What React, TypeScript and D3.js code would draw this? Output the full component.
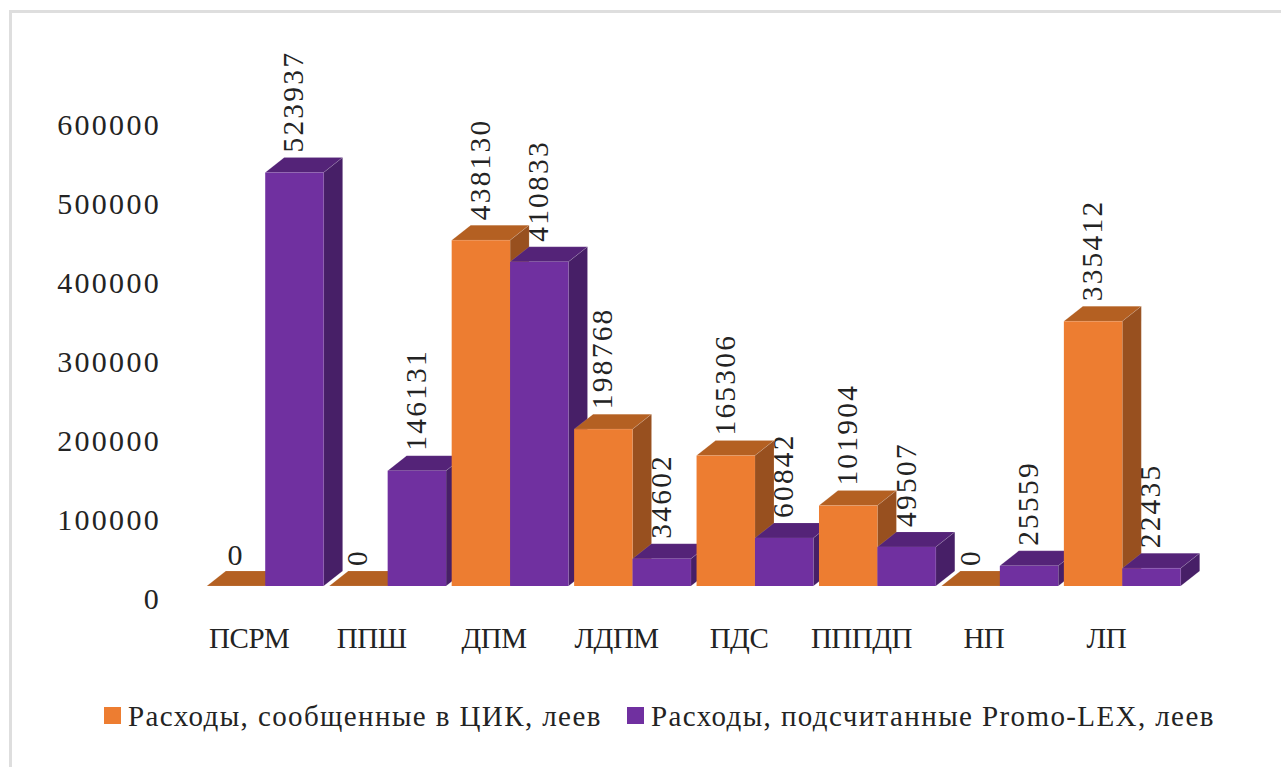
import React from 'react';
import * as d3 from 'd3';

const categories = ['ПСРМ', 'ППШ', 'ДПМ', 'ЛДПМ', 'ПДС', 'ПППДП', 'НП', 'ЛП'];
const reported = [0, 0, 438130, 198768, 165306, 101904, 0, 335412];
const counted = [523937, 146131, 410833, 34602, 60842, 49507, 25559, 22435];
const yTicks = [0, 100000, 200000, 300000, 400000, 500000, 600000];
const seriesNames = ['Расходы, сообщенные в ЦИК, леев', 'Расходы, подсчитанные Promo-LEX, леев'];

const W = 1281;
const H = 767;
const FONT = '"Liberation Serif", serif';
const TEXT = '#232323';
const DX = 19;
const DY = 15;
const BASE = 586;

const x0 = d3.scaleBand<string>().domain(categories).range([204, 1183.5]);
const x1 = d3.scaleBand<string>().domain(['a', 'b']).range([0, x0.bandwidth()]).paddingOuter(0.048);
const y = d3.scaleLinear().domain([0, 600000]).range([BASE, BASE - 473.5]);

const orange = { front: '#ED7D31', top: '#B46022', side: '#98501F' };
const purple = { front: '#7030A0', top: '#542378', side: '#471F67' };

function Bar({ x, w, value, c }: { x: number; w: number; value: number; c: typeof orange }) {
  const t = y(value);
  const edge = { stroke: 'rgba(255,255,255,0.15)', strokeWidth: 0.8 };
  return (
    <g>
      <polygon points={`${x},${t} ${x + DX},${t - DY} ${x + w + DX},${t - DY} ${x + w},${t}`} fill={c.top} {...edge} />
      <polygon points={`${x + w},${t} ${x + w + DX},${t - DY} ${x + w + DX},${BASE - DY} ${x + w},${BASE}`} fill={c.side} {...edge} />
      <rect x={x} y={t} width={w} height={BASE - t} fill={c.front} />
    </g>
  );
}

function Label({ x, value, i }: { x: number; value: number; i: number }) {
  const t = y(value) - DY - 5;
  // the first zero stays upright in the original
  if (value === 0 && i === 0) {
    return <text x={x - 1} y={t - 1} textAnchor="middle" fontFamily={FONT} fontSize={30} fill={TEXT}>0</text>;
  }
  return (
    <text
      transform={`translate(${x - 1},${t}) rotate(-90)`}
      dominantBaseline="central"
      fontFamily={FONT}
      fontSize={29.5}
      letterSpacing={2.2}
      fill={TEXT}
    >
      {value}
    </text>
  );
}

export default function App() {
  const w = x1.bandwidth();
  return (
    <svg width={W} height={H} style={{ position: 'absolute', left: 0, top: 0, background: '#fff' }}>
      <line x1={10.5} y1={11.5} x2={W} y2={11.5} stroke="#DEDEDE" strokeWidth={3} />
      <line x1={10.5} y1={10} x2={10.5} y2={H} stroke="#DEDEDE" strokeWidth={3} />

      {yTicks.map(t => (
        <text key={t} x={161} y={y(t) + 12} textAnchor="end" dominantBaseline="central" fontFamily={FONT} fontSize={30} letterSpacing={2.3} fill={TEXT}>
          {t}
        </text>
      ))}

      {categories.map((c, i) => (
        <g key={c}>
          <Bar x={x0(c)! + x1('a')!} w={w} value={reported[i]} c={orange} />
          <Bar x={x0(c)! + x1('b')!} w={w} value={counted[i]} c={purple} />
        </g>
      ))}

      {categories.map((c, i) => (
        <g key={c}>
          <Label x={x0(c)! + x1('a')! + w / 2} value={reported[i]} i={i} />
          <Label x={x0(c)! + x1('b')! + w / 2} value={counted[i]} i={i} />
          <text x={x0(c)! + x0.bandwidth() / 2 - 16} y={648} textAnchor="middle" fontFamily={FONT} fontSize={29} letterSpacing={-0.5} fill={TEXT}>
            {c}
          </text>
        </g>
      ))}

      <rect x={104} y={707} width={17} height={17} fill={orange.front} />
      <text x={128} y={726} fontFamily={FONT} fontSize={29} letterSpacing={1.4} fill={TEXT}>{seriesNames[0]}</text>
      <rect x={627} y={707} width={17} height={17} fill={purple.front} />
      <text x={651} y={726} fontFamily={FONT} fontSize={29} letterSpacing={1.4} fill={TEXT}>{seriesNames[1]}</text>
    </svg>
  );
}
